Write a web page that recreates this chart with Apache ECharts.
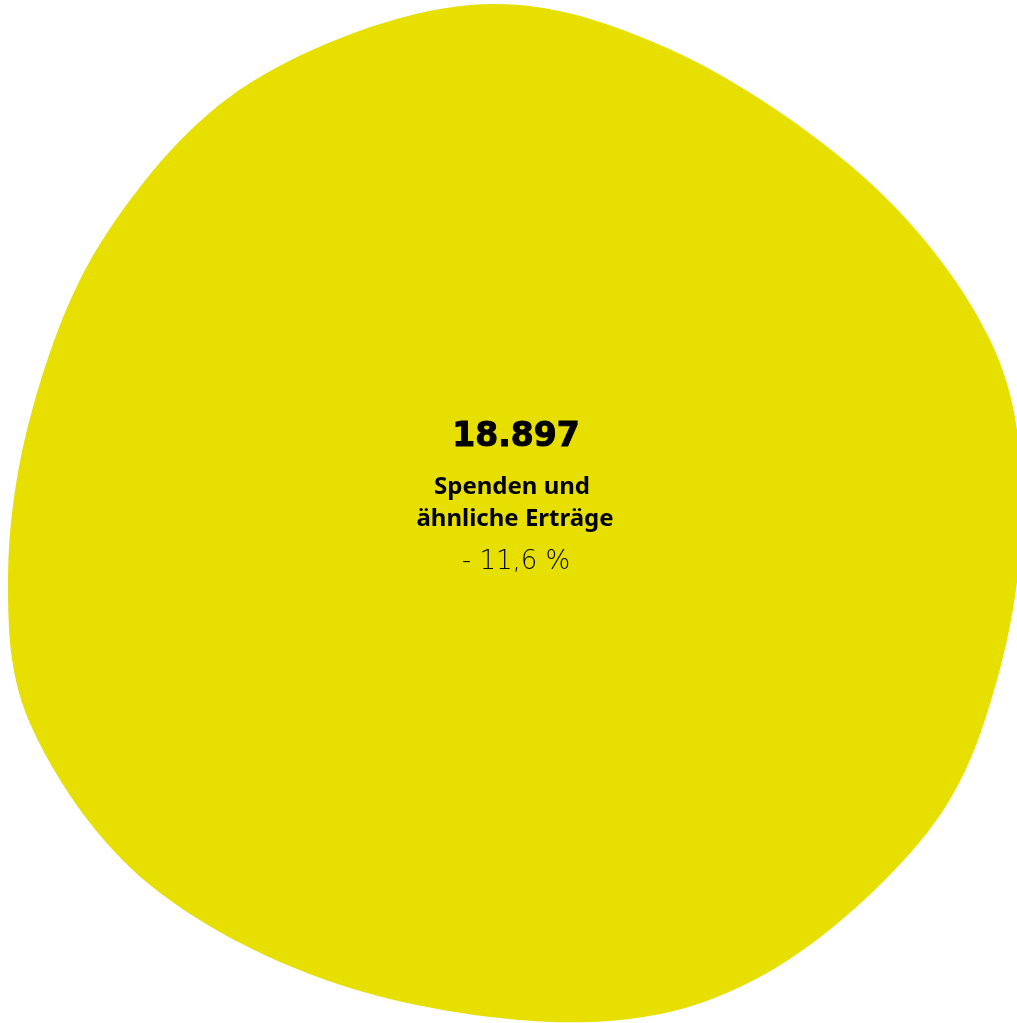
<!DOCTYPE html>
<html>
<head>
<meta charset="utf-8">
<script src="https://cdn.jsdelivr.net/npm/echarts@6/dist/echarts.min.js"></script>
<style>
  html, body { margin: 0; padding: 0; background: #ffffff; }
  #chart { width: 1017px; height: 1023px; }
</style>
</head>
<body>
<div id="chart"></div>
<script>
// Blob outline (clockwise from the top)
const blobX = [470, 667, 867, 990, 1022, 997, 927, 767, 590, 350, 150, 33, 8, 33, 107, 250];
const blobY = [5, 48, 180, 340, 500, 680, 833, 973, 1022, 988, 885, 730, 580, 407, 233, 83];

const valueText = '18.897';
const labelLines = ['Spenden und', 'ähnliche Erträge'];
const changeText = '- 11,6 %';

const blobColor = '#e6df00';

const chart = echarts.init(document.getElementById('chart'), null, { renderer: 'canvas' });

const blobData = blobX.map((x, i) => [x, blobY[i]]);

function closedSplinePath(pts) {
  const n = pts.length;
  let d = 'M' + pts[0][0].toFixed(2) + ' ' + pts[0][1].toFixed(2);
  for (let i = 0; i < n; i++) {
    const p0 = pts[(i - 1 + n) % n], p1 = pts[i], p2 = pts[(i + 1) % n], p3 = pts[(i + 2) % n];
    const c1x = p1[0] + (p2[0] - p0[0]) / 6, c1y = p1[1] + (p2[1] - p0[1]) / 6;
    const c2x = p2[0] - (p3[0] - p1[0]) / 6, c2y = p2[1] - (p3[1] - p1[1]) / 6;
    d += 'C' + c1x.toFixed(2) + ' ' + c1y.toFixed(2) + ' ' + c2x.toFixed(2) + ' ' + c2y.toFixed(2) + ' ' + p2[0].toFixed(2) + ' ' + p2[1].toFixed(2);
  }
  return d + 'Z';
}

chart.setOption({
  animation: false,
  backgroundColor: '#ffffff',
  grid: { left: 0, right: 0, top: 0, bottom: 0 },
  xAxis: { type: 'value', min: 0, max: 1017, show: false },
  yAxis: { type: 'value', min: 0, max: 1023, inverse: true, show: false },
  series: [{
    type: 'custom',
    clip: false,
    silent: true,
    data: blobData,
    renderItem: function (params, api) {
      if (params.dataIndex !== 0) return null;
      const pts = blobData.map(p => api.coord(p));
      return {
        type: 'path',
        shape: { pathData: closedSplinePath(pts) },
        style: { fill: blobColor, stroke: null }
      };
    }
  }],
  graphic: {
    elements: [
      {
        type: 'text', x: 516, y: 437, z: 100, silent: true,
        style: {
          text: valueText, align: 'center', verticalAlign: 'middle',
          font: 'bold 33px "DejaVu Sans"', fill: '#000000',
          stroke: '#000000', lineWidth: 1
        }
      },
      {
        type: 'text', x: 512, y: 487, z: 100, silent: true,
        style: {
          text: labelLines[0], align: 'center', verticalAlign: 'middle',
          font: 'bold 24px "Noto Sans"', fill: '#000000'
        }
      },
      {
        type: 'text', x: 515, y: 519, z: 100, silent: true,
        style: {
          text: labelLines[1], align: 'center', verticalAlign: 'middle',
          font: 'bold 24px "Noto Sans"', fill: '#000000'
        }
      },
      {
        type: 'text', x: 516, y: 562, z: 100, silent: true,
        style: {
          text: changeText, align: 'center', verticalAlign: 'middle',
          font: '200 26px "DejaVu Sans ExtraLight", "DejaVu Sans"', fill: '#000000'
        }
      }
    ]
  }
});
</script>
</body>
</html>
